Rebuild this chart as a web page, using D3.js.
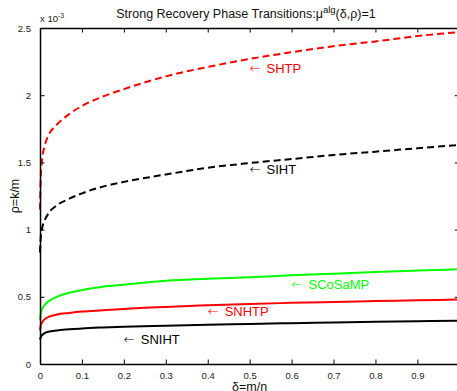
<!DOCTYPE html>
<html>
<head>
<meta charset="utf-8">
<script src="https://cdn.jsdelivr.net/npm/d3@7"></script>
<style>
  html, body { margin: 0; padding: 0; background: #fff; }
  svg { display: block; font-family: "Liberation Sans", Arial, Helvetica, sans-serif; }
</style>
</head>
<body>
<svg id="chart" width="457" height="391"></svg>
<script>
// δ = m/n sample points shared by every curve
const delta = [0, 0.002, 0.005, 0.01, 0.02, 0.04, 0.07, 0.1, 0.15, 0.2, 0.3, 0.4, 0.5, 0.6, 0.7, 0.8, 0.9, 1.0];

// ρ = k/m phase-transition values (×10^-3)
const shtp    = [1.15, 1.40, 1.52, 1.61, 1.70, 1.78, 1.86, 1.92, 1.99, 2.045, 2.14, 2.21, 2.27, 2.32, 2.365, 2.40, 2.44, 2.47];
const siht    = [0.83, 0.95, 1.01, 1.06, 1.12, 1.18, 1.23, 1.27, 1.32, 1.355, 1.41, 1.46, 1.495, 1.525, 1.555, 1.58, 1.605, 1.63];
const scosamp = [0.33, 0.38, 0.41, 0.435, 0.465, 0.50, 0.53, 0.55, 0.575, 0.59, 0.62, 0.635, 0.645, 0.66, 0.672, 0.684, 0.695, 0.705];
const snhtp   = [0.25, 0.29, 0.31, 0.33, 0.35, 0.368, 0.38, 0.39, 0.40, 0.41, 0.425, 0.437, 0.447, 0.455, 0.462, 0.468, 0.474, 0.48];
const sniht   = [0.18, 0.20, 0.215, 0.228, 0.24, 0.25, 0.258, 0.265, 0.272, 0.277, 0.285, 0.292, 0.298, 0.304, 0.309, 0.314, 0.318, 0.323];

// Series names, colours, dash styles
const names  = ["SHTP", "SIHT", "SCoSaMP", "SNHTP", "SNIHT"];
const colors = ["#ff0000", "#000000", "#00ff00", "#ff0000", "#000000"];
const dashes = ["7,4", "7,4", null, null, null];

// Annotation anchors (δ, ρ) for the "← name" labels
const labelX = [0.5, 0.5, 0.6, 0.4, 0.2];
const labelY = [2.2, 1.45, 0.593, 0.389, 0.186];

// Tick values and labels
const xTicks = [0, 0.1, 0.2, 0.3, 0.4, 0.5, 0.6, 0.7, 0.8, 0.9];
const xTickLabels = ["0", "0.1", "0.2", "0.3", "0.4", "0.5", "0.6", "0.7", "0.8", "0.9"];
const yTicks = [0, 0.5, 1, 1.5, 2, 2.5];
const yTickLabels = ["0", "0.5", "1", "1.5", "2", "2.5"];

const series = [shtp, siht, scosamp, snhtp, sniht];

const svg = d3.select("#chart");
const mLeft = 40, mRight = 459.3, mTop = 28, mBottom = 364;

const x = d3.scaleLinear().domain([0, 1]).range([mLeft, mRight]);
const y = d3.scaleLinear().domain([0, 2.5]).range([mBottom, mTop]);

// Curves
const line = d3.line()
  .x(d => x(d[0]))
  .y(d => y(d[1]))
  .curve(d3.curveMonotoneX);

const plot = svg.append("g");
series.forEach((vals, i) => {
  const pts = delta.map((d, j) => [d, vals[j]]);
  plot.append("path")
    .attr("d", line(pts))
    .attr("fill", "none")
    .attr("stroke", colors[i])
    .attr("stroke-width", 2)
    .attr("stroke-dasharray", dashes[i])
    .attr("stroke-linejoin", "round");
});

// Axes box with inward ticks on all four sides
const tickLen = 4.5;
const axisG = svg.append("g");

const xBottom = d3.axisBottom(x).tickValues(xTicks).tickSizeInner(-tickLen).tickSizeOuter(0)
  .tickFormat((d, i) => xTickLabels[i]).tickPadding(8);
axisG.append("g").attr("transform", `translate(0,${mBottom})`).call(xBottom);

const xTop = d3.axisTop(x).tickValues(xTicks).tickSizeInner(-tickLen).tickSizeOuter(0).tickFormat("");
axisG.append("g").attr("transform", `translate(0,${mTop})`).call(xTop);

const yLeft = d3.axisLeft(y).tickValues(yTicks).tickSizeInner(-tickLen).tickSizeOuter(0)
  .tickFormat((d, i) => yTickLabels[i]).tickPadding(9);
axisG.append("g").attr("transform", `translate(${mLeft},0)`).call(yLeft);

const yRight = d3.axisRight(y).tickValues(yTicks).tickSizeInner(-tickLen).tickSizeOuter(0).tickFormat("");
axisG.append("g").attr("transform", `translate(${mRight},0)`).call(yRight);

axisG.selectAll(".domain").attr("stroke", "#000").attr("stroke-width", 1.5);
axisG.selectAll(".tick line").attr("stroke", "#000").attr("stroke-width", 1);
axisG.selectAll(".tick text")
  .attr("fill", "#222")
  .style("font-size", "9.5px")
  .style("font-family", "'Liberation Sans', Arial, sans-serif");

// Exponent marker for the y axis
const expo = svg.append("text")
  .attr("x", mLeft)
  .attr("y", 22)
  .attr("font-size", 9.5)
  .attr("fill", "#222");
expo.append("tspan").text("x 10");
expo.append("tspan").attr("dy", -4).attr("font-size", 7).text("-3");

// Title
const title = svg.append("text")
  .attr("x", 246)
  .attr("y", 18)
  .attr("text-anchor", "middle")
  .attr("font-size", 12.5)
  .attr("fill", "#111");
title.append("tspan").text("Strong Recovery Phase Transitions:μ");
title.append("tspan").attr("dy", -5).attr("font-size", 9.5).text("alg");
title.append("tspan").attr("dy", 5).text("(δ,ρ)=1");

// Axis labels
svg.append("text")
  .attr("x", (mLeft + mRight) / 2)
  .attr("y", 391)
  .attr("text-anchor", "middle")
  .attr("font-size", 12.5)
  .attr("fill", "#111")
  .text("δ=m/n");

svg.append("text")
  .attr("transform", `translate(19,${(mTop + mBottom) / 2}) rotate(-90)`)
  .attr("text-anchor", "middle")
  .attr("font-size", 12.5)
  .attr("fill", "#111")
  .text("ρ=k/m");

// Series annotations: a wide arrow glyph followed by the algorithm name
names.forEach((n, i) => {
  const t = svg.append("text")
    .attr("x", x(labelX[i]))
    .attr("y", y(labelY[i]))
    .attr("dy", "0.35em")
    .attr("font-size", 13)
    .attr("fill", colors[i]);
  t.append("tspan")
    .style("font-family", "'DejaVu Sans', sans-serif")
    .attr("font-weight", 300)
    .text("\u2190");
  t.append("tspan")
    .attr("dx", 6)
    .text(n);
});
</script>
</body>
</html>
